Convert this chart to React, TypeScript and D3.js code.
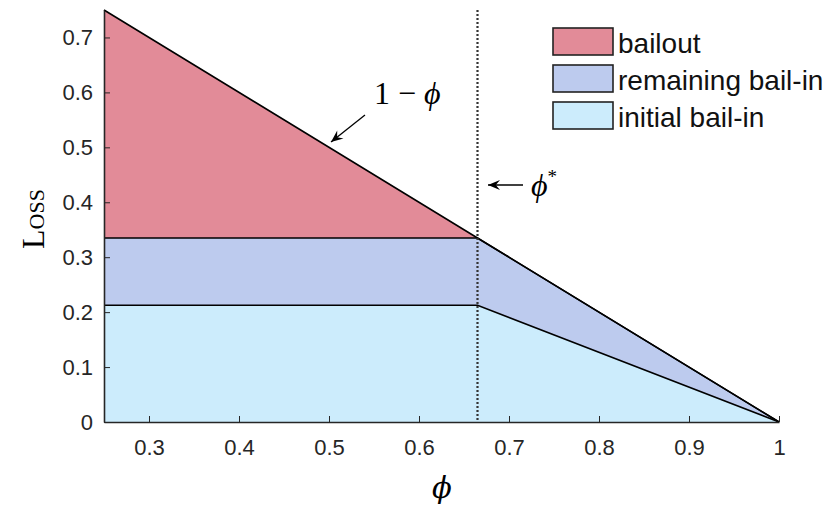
import React, { useEffect, useRef } from "react";
import * as d3 from "d3";

// breakpoints of the loss split (phi* ~ 0.665)
const phiValues = [0.25, 0.665, 1];
const totalLoss = [0.75, 0.335, 0];
const remainingTop = [0.335, 0.335, 0];
const initialBailIn = [0.2125, 0.2125, 0];
const phiStar = 0.665;

const xTicks = [0.3, 0.4, 0.5, 0.6, 0.7, 0.8, 0.9, 1];
const yTicks = [0, 0.1, 0.2, 0.3, 0.4, 0.5, 0.6, 0.7];

const legendNames = ["bailout", "remaining bail-in", "initial bail-in"];
const colours = ["#E28B98", "#BDCBEE", "#CCECFC"];

const App = () => {
  const ref = useRef<SVGSVGElement>(null);

  useEffect(() => {
    const svg = d3.select(ref.current);
    svg.selectAll("*").remove();

    const margin = { left: 104, right: 56, top: 10, bottom: 84 };
    const width = 835;
    const height = 506;
    const x = d3.scaleLinear().domain([0.25, 1]).range([margin.left, width - margin.right]);
    const y = d3.scaleLinear().domain([0, 0.75]).range([height - margin.bottom, margin.top]);

    const rows = phiValues.map((p, i) => ({
      phi: p,
      total: totalLoss[i],
      remaining: remainingTop[i],
      initial: initialBailIn[i]
    }));

    const layers = [
      { lo: (d: any) => d.remaining, hi: (d: any) => d.total },
      { lo: (d: any) => d.initial, hi: (d: any) => d.remaining },
      { lo: () => 0, hi: (d: any) => d.initial }
    ];

    const g = svg.append("g");

    layers.forEach((l, i) => {
      const area = d3
        .area<any>()
        .x(d => x(d.phi))
        .y0(d => y(l.lo(d)))
        .y1(d => y(l.hi(d)));
      g.append("path")
        .attr("d", area(rows))
        .attr("fill", colours[i])
        .attr("stroke", "none");
    });

    // boundary lines
    const lineOf = (acc: (d: any) => number) =>
      d3.line<any>().x(d => x(d.phi)).y(d => y(acc(d)))(rows);
    [(d: any) => d.total, (d: any) => d.remaining, (d: any) => d.initial].forEach(acc => {
      g.append("path")
        .attr("d", lineOf(acc))
        .attr("fill", "none")
        .attr("stroke", "#000")
        .attr("stroke-width", 1.6);
    });

    // phi* dotted line
    g.append("line")
      .attr("x1", x(phiStar))
      .attr("x2", x(phiStar))
      .attr("y1", y(0.75))
      .attr("y2", y(0))
      .attr("stroke", "#333")
      .attr("stroke-width", 2.2)
      .attr("stroke-dasharray", "2,2");

    // axes
    const axisColour = "#262626";
    const xAxis = svg
      .append("g")
      .attr("transform", `translate(0,${y(0)})`)
      .call(d3.axisBottom(x).tickValues(xTicks).tickSizeInner(-6).tickSizeOuter(0).tickPadding(17).tickFormat(d3.format("")));
    const yAxis = svg
      .append("g")
      .attr("transform", `translate(${x(0.25)},0)`)
      .call(d3.axisLeft(y).tickValues(yTicks).tickSizeInner(-6).tickSizeOuter(0).tickPadding(11).tickFormat(d3.format("")));
    [xAxis, yAxis].forEach(a => {
      a.attr("font-size", 22).attr("font-family", "Liberation Sans, Arial, sans-serif");
      a.select(".domain").attr("stroke", axisColour).attr("stroke-width", 1.6);
      a.selectAll(".tick line").attr("stroke", axisColour).attr("stroke-width", 1);
      a.selectAll(".tick text").attr("fill", axisColour);
    });

    // axis labels
    svg.append("text")
      .attr("x", 442)
      .attr("y", 498)
      .attr("text-anchor", "middle")
      .style("font-family", "DejaVu Serif, serif")
      .style("font-style", "italic")
      .style("font-size", "29px")
      .text("ϕ");
    svg.append("text")
      .attr("transform", `translate(44,${219}) rotate(-90)`)
      .attr("text-anchor", "middle")
      .style("font-family", "Liberation Serif, serif")
      .style("font-variant", "small-caps")
      .style("font-size", "32px")
      .text("Loss");

    // annotations
    svg.append("text")
      .attr("x", 374)
      .attr("y", 104)
      .style("font-family", "Liberation Serif, serif")
      .style("font-size", "32px")
      .text("1 − ")
      .append("tspan")
      .style("font-style", "italic")
      .text("ϕ");
    const arrowHead = (x0: number, y0: number, x1: number, y1: number) => {
      svg.append("line")
        .attr("x1", x0).attr("y1", y0).attr("x2", x1).attr("y2", y1)
        .attr("stroke", "#000").attr("stroke-width", 1.3);
      const ang = Math.atan2(y1 - y0, x1 - x0);
      const len = 13;
      const spread = 0.4;
      const p = [
        [x1, y1],
        [x1 - len * Math.cos(ang - spread), y1 - len * Math.sin(ang - spread)],
        [x1 - len * 0.6 * Math.cos(ang), y1 - len * 0.6 * Math.sin(ang)],
        [x1 - len * Math.cos(ang + spread), y1 - len * Math.sin(ang + spread)]
      ];
      svg.append("path").attr("d", "M" + p.map(q => q.join(",")).join("L") + "Z").attr("fill", "#000");
    };
    arrowHead(365, 115, 331, 142);
    arrowHead(523, 185, 488, 185);
    svg.append("text")
      .attr("x", 531)
      .attr("y", 196)
      .style("font-family", "Liberation Serif, serif")
      .style("font-style", "italic")
      .style("font-size", "32px")
      .text("ϕ")
      .append("tspan")
      .attr("dy", -13)
      .style("font-size", "19px")
      .style("font-style", "normal")
      .text("*");

    // legend
    const legend = svg.append("g").attr("transform", "translate(553,28)");
    legendNames.forEach((name, i) => {
      const row = legend.append("g").attr("transform", `translate(0,${i * 37})`);
      row.append("rect")
        .attr("width", 60)
        .attr("height", 27)
        .attr("fill", colours[i])
        .attr("stroke", "#222")
        .attr("stroke-width", 1.6);
      row.append("text")
        .attr("x", 65)
        .attr("y", 25)
        .style("font-family", "Liberation Sans, Arial, sans-serif")
        .style("font-size", "28px")
        .attr("fill", "#111")
        .text(name);
    });
  }, []);

  return (
    <svg
      ref={ref}
      width={835}
      height={506}
      style={{ position: "absolute", left: 0, top: 0, background: "#fff" }}
    />
  );
};

export default App;
